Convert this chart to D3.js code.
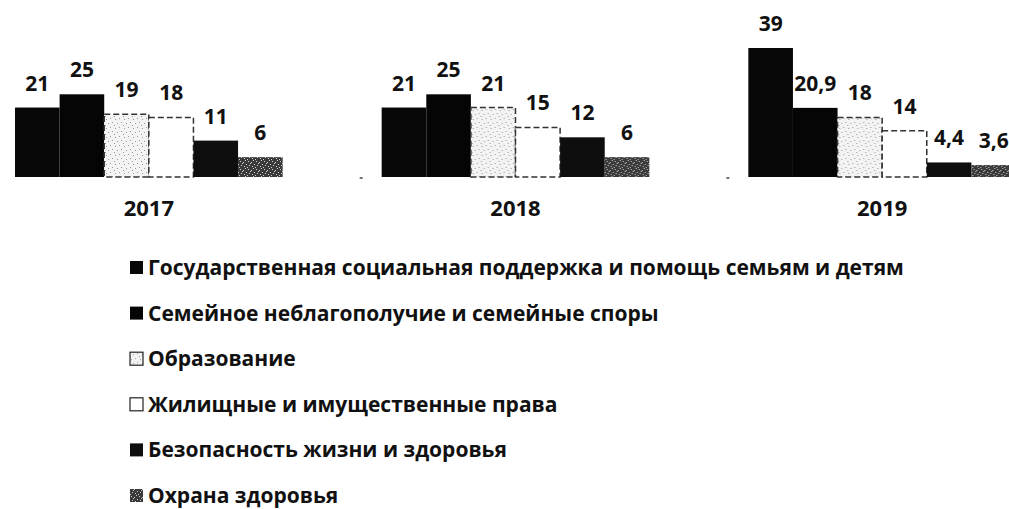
<!DOCTYPE html>
<html>
<head>
<meta charset="utf-8">
<script src="https://cdn.jsdelivr.net/npm/d3@7"></script>
<style>
  body { margin: 0; background: #fff; }
  svg { display: block; }
  text { font-family: "Open Sans", sans-serif; font-weight: bold; fill: #111; }
</style>
</head>
<body>
<svg id="chart"></svg>
<script>
let w = 1009
let h = 509

let years = ["2017", "2018", "2019"]
let seriesNames = [
  "Государственная социальная поддержка и помощь семьям и детям",
  "Семейное неблагополучие и семейные споры",
  "Образование",
  "Жилищные и имущественные права",
  "Безопасность жизни и здоровья",
  "Охрана здоровья"
]
let values2017 = [21, 25, 19, 18, 11, 6]
let values2018 = [21, 25, 21, 15, 12, 6]
let values2019 = [39, 20.9, 18, 14, 4.4, 3.6]
let valuesByYear = [values2017, values2018, values2019]

let fills = ["#080808", "#050505", "url(#dots)", "#ffffff", "#0e0e0e", "url(#speckle)"]
let strokes = ["none", "none", "#333", "#333", "none", "none"]

let svg = d3.select('#chart')
  .attr('width', w)
  .attr('height', h)

// patterns for the scanned-looking fills
let defs = svg.append('defs')
let dots = defs.append('pattern')
  .attr('id', 'dots')
  .attr('width', 9).attr('height', 9)
  .attr('patternUnits', 'userSpaceOnUse')
dots.append('rect').attr('width', 9).attr('height', 9).attr('fill', '#f3f3f3')
;[[1, 2], [5, 1], [3, 6], [7, 5], [0, 8]].forEach(p => {
  dots.append('rect').attr('x', p[0]).attr('y', p[1]).attr('width', 1).attr('height', 1).attr('fill', '#999')
})

let speckle = defs.append('pattern')
  .attr('id', 'speckle')
  .attr('width', 8).attr('height', 8)
  .attr('patternUnits', 'userSpaceOnUse')
speckle.append('rect').attr('width', 8).attr('height', 8).attr('fill', '#3a3a3a')
;[[1, 1], [4, 2], [6, 0], [2, 5], [5, 6], [7, 4], [0, 7], [3, 3]].forEach(p => {
  speckle.append('rect').attr('x', p[0]).attr('y', p[1]).attr('width', 1).attr('height', 1).attr('fill', '#ccc')
})

let x0 = d3.scaleBand()
  .domain(years)
  .range([15, 1016])
  .paddingInner(0.27)
  .paddingOuter(0)

let x1 = d3.scaleBand()
  .domain(d3.range(seriesNames.length))
  .range([0, x0.bandwidth()])

let y = d3.scaleLinear()
  .domain([0, 39])
  .range([177, 48])

let groups = svg.selectAll('g.year')
  .data(years)
  .join('g')
  .attr('class', 'year')
  .attr('transform', (d) => 'translate(' + x0(d) + ',0)')

groups.each(function(year, yi) {
  let g = d3.select(this)
  let vals = valuesByYear[yi].map((v, i) => ({ v: v, i: i }))

  g.selectAll('rect')
    .data(vals)
    .join('rect')
    .attr('x', (d) => x1(d.i))
    .attr('y', (d) => y(d.v))
    .attr('width', x1.bandwidth())
    .attr('height', (d) => y(0) - y(d.v))
    .attr('fill', (d) => fills[d.i])
    .attr('stroke', (d) => strokes[d.i])
    .attr('stroke-width', 1.5)
    .attr('stroke-dasharray', (d) => strokes[d.i] === 'none' ? null : '6,3')

  g.selectAll('text.val')
    .data(vals)
    .join('text')
    .attr('class', 'val')
    .attr('x', (d) => x1(d.i) + x1.bandwidth() / 2)
    .attr('y', (d) => y(d.v) - 17)
    .attr('text-anchor', 'middle')
    .attr('font-size', 21)
    .text((d) => String(d.v).replace('.', ','))
})

// faint tick marks left of each group, as in the scan
svg.selectAll('line.tick')
  .data(years.slice(1))
  .join('line')
  .attr('class', 'tick')
  .attr('x1', (d) => x0(d) - 22)
  .attr('x2', (d) => x0(d) - 19)
  .attr('y1', y(0) + 1)
  .attr('y2', y(0) + 1)
  .attr('stroke', '#444')
  .attr('stroke-width', 1.5)

// category labels
let xAxis = d3.axisBottom(x0).tickSize(0).tickPadding(0)
let axisG = svg.append('g')
  .attr('transform', 'translate(0,' + 200 + ')')
  .call(xAxis)
axisG.select('.domain').remove()
axisG.selectAll('text')
  .attr('font-size', 22)
  .attr('font-family', '"Open Sans", sans-serif')
  .attr('font-weight', 'bold')
  .attr('fill', '#111')

// legend
let legendG = svg.selectAll('g.legend')
  .data(seriesNames)
  .join('g')
  .attr('class', 'legend')
  .attr('transform', (d, i) => 'translate(130,' + (275 + i * 45.6) + ')')

legendG.append('rect')
  .attr('x', 0)
  .attr('y', -14)
  .attr('width', 13)
  .attr('height', 13)
  .attr('fill', (d, i) => fills[i])
  .attr('stroke', (d, i) => strokes[i] === 'none' ? null : '#222')
  .attr('stroke-width', 1.2)

legendG.append('text')
  .attr('x', 18)
  .attr('y', 0)
  .attr('font-size', 21)
  .text((d) => d)
</script>
</body>
</html>
